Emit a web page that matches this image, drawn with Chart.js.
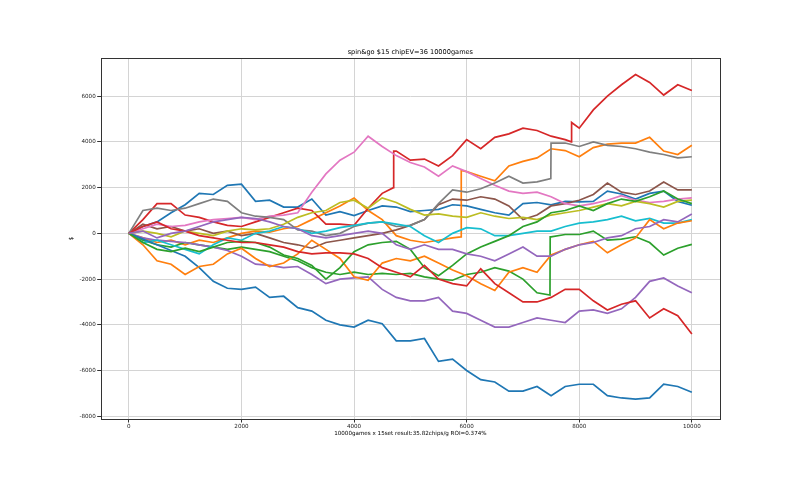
<!DOCTYPE html>
<html>
<head>
<meta charset="utf-8">
<script src="https://cdn.jsdelivr.net/npm/chart.js@4.4.0/dist/chart.umd.min.js"></script>
<style>html,body{margin:0;background:#fff;}</style>
</head>
<body>
<canvas id="myChart" width="800" height="480"></canvas>
<script>
var titleText = "spin&go $15 chipEV=36 10000games";
var xLabel = "10000games x 15set result:35.82chips/g ROI=0.374%";
var yLabel = "$";

var xTicks = [0, 2000, 4000, 6000, 8000, 10000];
var yTicks = [-8000, -6000, -4000, -2000, 0, 2000, 4000, 6000];

// games played (x), every 250 games
var games = [0, 250, 500, 750, 1000, 1250, 1500, 1750, 2000, 2250,
  2500, 2750, 3000, 3250, 3500, 3750, 4000, 4250, 4500, 4750,
  5000, 5250, 5500, 5750, 6000, 6250, 6500, 6750, 7000, 7250,
  7500, 7750, 8000, 8250, 8500, 8750, 9000, 9250, 9500, 9750, 10000];

// $ result of each set
var blueB = [0, 300, 500, 900, 1250, 1750, 1700, 2100, 2150, 1400,
  1450, 1150, 1150, 1500, 800, 950, 780, 1000, 1200, 1150,
  950, 1000, 1050, 1250, 1200, 1050, 900, 800, 1300, 1350,
  1250, 1400, 1380, 1400, 1850, 1720, 1500, 1750, 1850, 1400, 1230];
var orangeA = [0, -200, -400, -300, -500, -300, -400, -200, 0, 100,
  50, 200, 300, 600, 900, 1200, 1550, 1000, 600, -100,
  -300, -400, -300, -200, 2700, 2500, 2300, 2950, 3150, 3300,
  3700, 3620, 3350, 3750, 3900, 3950, 3950, 4200, 3600, 3450, 3850];
var greenA = [0, -300, -500, -600, -400, -500, -600, -700, -600, -700,
  -800, -1000, -1200, -1500, -1700, -1800, -1700, -1800, -1750, -1800,
  -1750, -1900, -2000, -2050, -1800, -1700, -1500, -1650, -2000, -2600,
  -150, -50, -50, 100, -300, -250, -150, -400, -950, -650, -480];
var redA = [0, 600, 1300, 1300, 800, 700, 500, 350, 300, 500,
  700, 900, 1100, 1000, 400, 400, 350, 1100, 1750, 3600,
  3200, 3250, 2950, 3400, 4100, 3700, 4200, 4350, 4600, 4500,
  4250, 4100, 4600, 5400, 6000, 6500, 6950, 6600, 6050, 6500, 6250];
var purpleA = [0, -200, -300, -350, -400, -500, -600, -750, -1000, -1350,
  -1400, -1500, -1450, -1800, -2200, -2000, -1950, -1900, -2450, -2800,
  -2950, -2950, -2800, -3400, -3500, -3800, -4100, -4100, -3900, -3700,
  -3800, -3900, -3400, -3350, -3500, -3300, -2800, -2100, -1950, -2300, -2600];
var brown = [0, 400, 200, 300, 100, 200, 0, 100, -100, 0,
  -200, -400, -500, -650, -400, -300, -200, -100, 0, 150,
  350, 600, 1250, 1500, 1450, 1600, 1500, 1200, 600, 800,
  1200, 1300, 1450, 1700, 2200, 1800, 1700, 1850, 2250, 1900, 1900];
var pink = [0, 200, 400, 300, 350, 500, 600, 650, 700, 600,
  750, 800, 900, 1800, 2600, 3200, 3550, 4250, 3800, 3400,
  3100, 2900, 2500, 2950, 2700, 2400, 2100, 1850, 1750, 1800,
  1600, 1300, 1200, 1300, 1450, 1650, 1450, 1350, 1400, 1500, 1550];
var gray = [0, 1000, 1100, 1000, 1100, 1300, 1500, 1400, 900, 750,
  700, 600, 150, 100, -100, 0, 300, 450, 500, 300,
  350, 600, 1300, 1900, 1800, 1950, 2200, 2500, 2200, 2250,
  3950, 3950, 3800, 4000, 3850, 3800, 3700, 3550, 3450, 3300, 3350];
var olive = [0, 100, 0, -150, 100, 0, -100, 100, 200, 150,
  200, 400, 700, 900, 1000, 1350, 1450, 1100, 1550, 1350,
  1050, 800, 850, 750, 700, 900, 750, 650, 700, 600,
  800, 900, 1000, 1150, 1300, 1200, 1400, 1300, 1150, 1400, 1450];
var cyan = [0, -400, -300, -500, -700, -900, -500, -200, -300, 0,
  100, 300, 200, 0, 100, 250, 350, 450, 500, 400,
  300, -100, -400, 0, 250, 200, -100, -100, 0, 100,
  100, 300, 450, 500, 600, 750, 550, 650, 450, 450, 600];
var blueA = [0, -250, -500, -750, -1000, -1500, -2100, -2400, -2450, -2350,
  -2800, -2750, -3250, -3400, -3800, -4000, -4100, -3800, -3950, -4700,
  -4700, -4600, -5600, -5500, -6000, -6400, -6500, -6900, -6900, -6700,
  -7100, -6700, -6600, -6600, -7100, -7200, -7250, -7200, -6600, -6700, -6950];
var orangeB = [0, -500, -1200, -1350, -1800, -1450, -1350, -900, -650, -1100,
  -1450, -1300, -900, -300, -700, -1100, -1900, -2050, -1300, -1100,
  -1200, -1000, -1300, -1600, -1850, -2200, -2500, -1700, -1500, -1700,
  -950, -700, -500, -350, -850, -500, -200, 600, 200, 450, 550];
var greenB = [0, -400, -700, -800, -650, -800, -600, -400, -350, -400,
  -600, -950, -1100, -1400, -2000, -1500, -800, -500, -400, -350,
  -700, -1500, -1850, -1400, -900, -600, -350, -100, 300, 500,
  900, 1000, 1200, 1000, 1300, 1500, 1400, 1600, 1850, 1500, 1300];
var redB = [0, 300, 500, 200, 100, -100, -200, -300, -400, -400,
  -500, -600, -800, -900, -850, -850, -900, -1100, -1500, -1700,
  -1900, -1400, -2000, -2200, -2300, -1550, -2200, -2600, -3000, -3000,
  -2800, -2450, -2450, -2950, -3350, -3100, -2950, -3700, -3300, -3600, -4400];
var purpleB = [0, 100, -200, 0, 100, 300, 500, 600, 700, 650,
  500, 300, 200, -100, -200, -100, 0, 100, 0, -500,
  -700, -500, -700, -700, -900, -1000, -1200, -900, -600, -1000,
  -1000, -700, -500, -400, -200, -100, 200, 300, 600, 500, 850];

// single-game jackpot jumps: [set, game, before, after]
var jumps = [
  ["redA", 4700, 2000, 3600],
  ["redA", 7860, 4000, 4850],
  ["orangeA", 5900, -150, 2750],
  ["gray", 7495, 2400, 3950],
  ["greenA", 7480, -2700, -150]
];

var sets = [
  ["blueB", blueB, "#1f77b4"],
  ["orangeA", orangeA, "#ff7f0e"],
  ["greenA", greenA, "#2ca02c"],
  ["redA", redA, "#d62728"],
  ["purpleA", purpleA, "#9467bd"],
  ["brown", brown, "#8c564b"],
  ["pink", pink, "#e377c2"],
  ["gray", gray, "#7f7f7f"],
  ["olive", olive, "#bcbd22"],
  ["cyan", cyan, "#17becf"],
  ["blueA", blueA, "#1f77b4"],
  ["orangeB", orangeB, "#ff7f0e"],
  ["greenB", greenB, "#2ca02c"],
  ["redB", redB, "#d62728"],
  ["purpleB", purpleB, "#9467bd"]
];

var datasets = sets.map(function (s, i) {
  var pts = games.map(function (g, k) { return {x: g, y: s[1][k]}; });
  jumps.forEach(function (j) {
    if (j[0] === s[0]) {
      pts.push({x: j[1], y: j[2]});
      pts.push({x: j[1] + 4, y: j[3]});
    }
  });
  pts.sort(function (a, b) { return a.x - b.x; });
  return {
    label: s[0],
    data: pts,
    borderColor: s[2],
    borderWidth: 1.7,
    pointRadius: 0,
    fill: false,
    order: -i
  };
});

var font = 'DejaVu Sans';

var framePlugin = {
  id: 'frame',
  afterDraw: function (chart) {
    var a = chart.chartArea, ctx = chart.ctx;
    ctx.save();
    ctx.strokeStyle = '#333';
    ctx.lineWidth = 1;
    ctx.strokeRect(Math.round(a.left) + 0.5, Math.round(a.top) + 0.5,
      Math.round(a.right - a.left), Math.round(a.bottom - a.top));
    ctx.fillStyle = '#000';
    ctx.font = '6.6px "' + font + '"';
    ctx.textAlign = 'center';
    ctx.textBaseline = 'middle';
    ctx.fillText(titleText, (a.left + a.right) / 2, 52);
    ctx.restore();
  }
};

new Chart("myChart", {
  type: "line",
  data: { datasets: datasets },
  plugins: [framePlugin],
  options: {
    responsive: false,
    animation: false,
    events: [],
    layout: { padding: { left: 63, right: 80, top: 58, bottom: 43 } },
    plugins: { legend: { display: false }, tooltip: { enabled: false } },
    scales: {
      x: {
        type: 'linear',
        min: -500,
        max: 10500,
        afterBuildTicks: function (s) { s.ticks = xTicks.map(function (v) { return {value: v}; }); },
        afterFit: function (s) { s.height = 18; },
        ticks: {
          font: { family: font, size: 5.6 },
          color: '#222',
          padding: 1,
          maxRotation: 0,
          callback: function (v) { return String(v); }
        },
        grid: { color: '#d4d4d4', lineWidth: 1, tickLength: 3.5, tickColor: '#333' },
        border: { display: false },
        title: { display: true, text: xLabel, font: { family: font, size: 5.6 }, color: '#000', padding: 0 }
      },
      y: {
        type: 'linear',
        min: -8120,
        max: 7670,
        afterBuildTicks: function (s) { s.ticks = yTicks.map(function (v) { return {value: v}; }); },
        afterFit: function (s) { s.width = 37.7; },
        ticks: {
          font: { family: font, size: 5.6 },
          color: '#222',
          padding: 1.5,
          callback: function (v) { return String(v); }
        },
        grid: { color: '#d4d4d4', lineWidth: 1, tickLength: 3.5, tickColor: '#333' },
        border: { display: false },
        title: { display: true, text: yLabel, font: { family: font, size: 5.6 }, color: '#000', padding: { top: 5, bottom: 0 } }
      }
    }
  }
});
</script>
</body>
</html>
